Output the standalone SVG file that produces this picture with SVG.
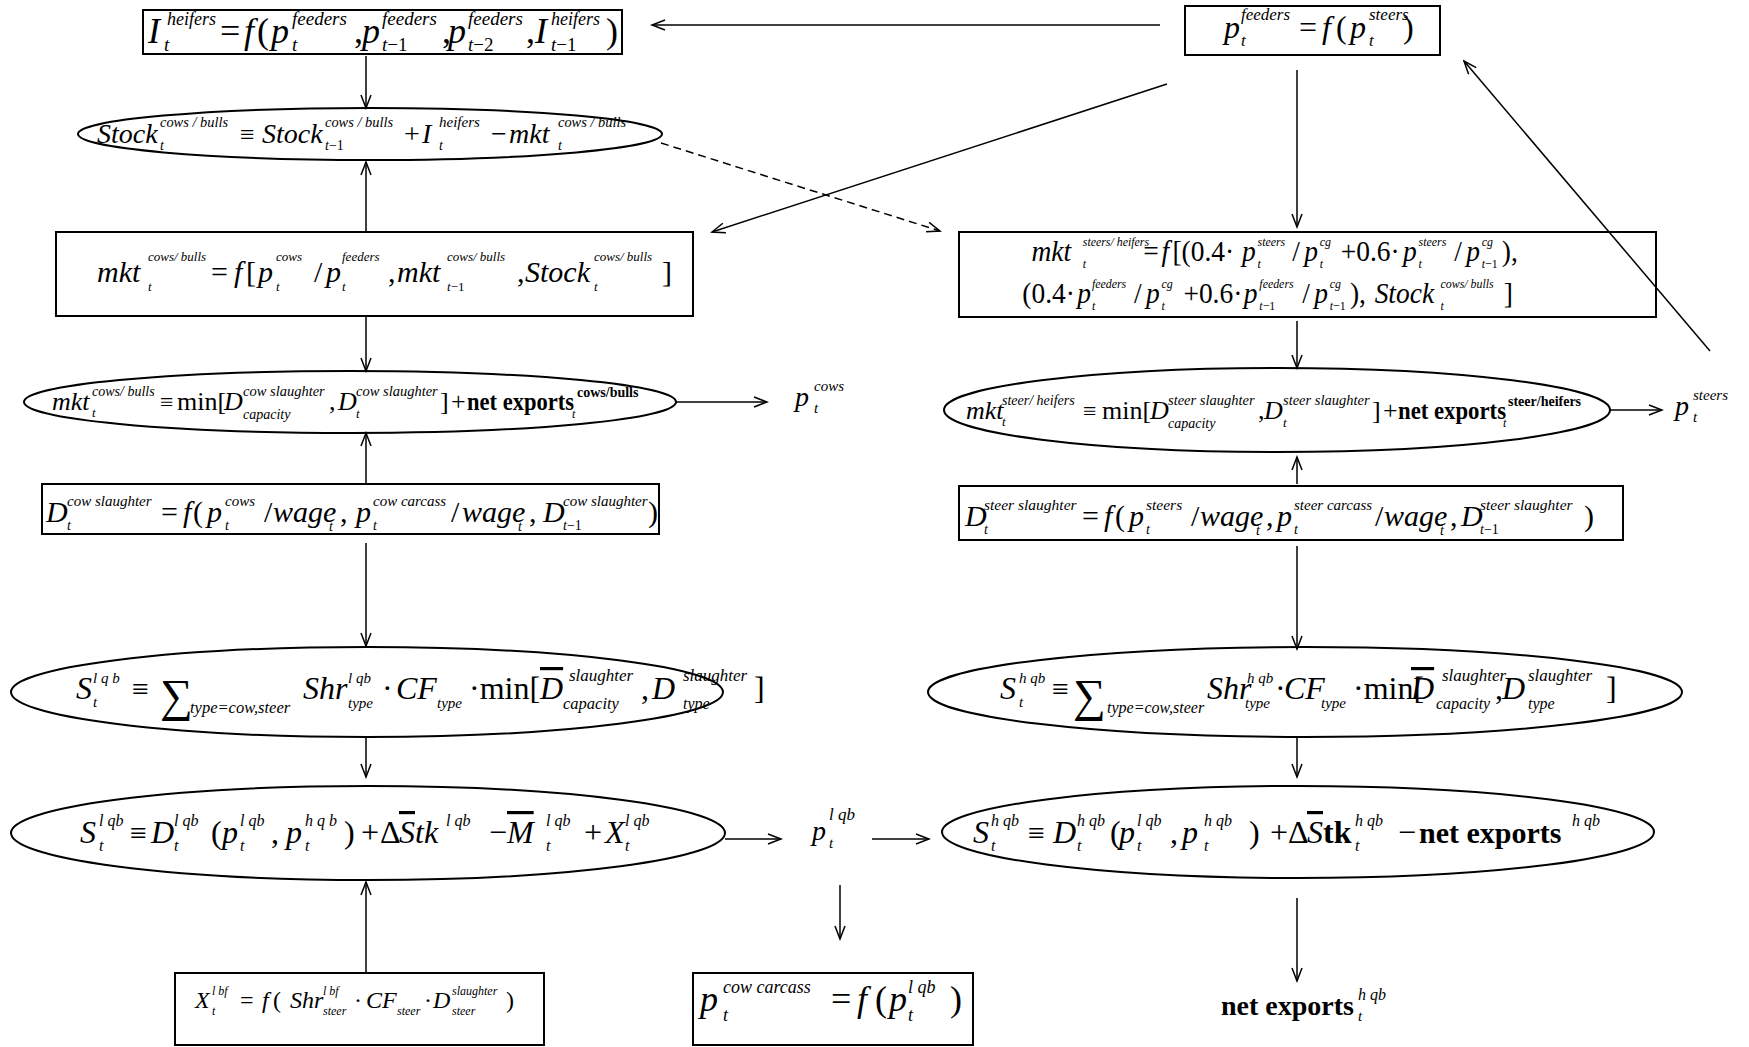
<svg xmlns="http://www.w3.org/2000/svg" width="1749" height="1047" viewBox="0 0 1749 1047">
<style>
text{font-family:"Liberation Serif","DejaVu Serif",serif;font-style:italic;fill:#000}
.r{font-style:normal}
.b{font-style:normal;font-weight:bold}
.ov{text-decoration:overline}
.sh{fill:none;stroke:#000;stroke-width:2}
.c{fill:none;stroke:#000;stroke-width:1.5;marker-end:url(#ah)}
.d{stroke-dasharray:8 5}
</style>
<defs>
<marker id="ah" markerWidth="16" markerHeight="12" refX="14" refY="6" orient="auto" markerUnits="userSpaceOnUse"><path d="M1,1 L14,6 L1,11" fill="none" stroke="#000" stroke-width="1.5"/></marker>
</defs>
<rect width="1749" height="1047" fill="#fff"/>

<g id="connectors">
<line class="c" x1="1160" y1="25" x2="652" y2="25"/>
<line class="c" x1="366" y1="56" x2="366" y2="108"/>
<line class="c" x1="366" y1="232" x2="366" y2="162"/>
<line class="c" x1="366" y1="316" x2="366" y2="371"/>
<line class="c" x1="366" y1="484" x2="366" y2="433"/>
<line class="c" x1="676" y1="402" x2="767" y2="402"/>
<line class="c" x1="366" y1="543" x2="366" y2="646"/>
<line class="c" x1="366" y1="737" x2="366" y2="777"/>
<line class="c" x1="366" y1="973" x2="366" y2="882"/>
<line class="c" x1="725" y1="839" x2="781" y2="839"/>
<line class="c" x1="872" y1="839" x2="929" y2="839"/>
<line class="c" x1="840" y1="885" x2="840" y2="939"/>
<line class="c" x1="1167" y1="84" x2="712" y2="232"/>
<line class="c d" x1="661" y1="143" x2="940" y2="231"/>
<line class="c" x1="1297" y1="70" x2="1297" y2="227"/>
<line class="c" x1="1297" y1="321" x2="1297" y2="368"/>
<line class="c" x1="1610" y1="410" x2="1662" y2="410"/>
<line class="c" x1="1297" y1="484" x2="1297" y2="457"/>
<line class="c" x1="1710" y1="351" x2="1464" y2="61"/>
<line class="c" x1="1297" y1="546" x2="1297" y2="649"/>
<line class="c" x1="1297" y1="737" x2="1297" y2="777"/>
<line class="c" x1="1297" y1="898" x2="1297" y2="981"/>
</g>

<g id="n-heifers">
<rect class="sh" x="143" y="10" width="479" height="44"/>
<text font-size="36">
<tspan x="148" y="43">I</tspan><tspan x="167" y="25" font-size="18">heifers</tspan><tspan x="164" y="51" font-size="19">t</tspan>
<tspan class="r" x="220" y="43">=</tspan><tspan x="244" y="43">f</tspan><tspan class="r" x="257" y="43">(</tspan>
<tspan x="271" y="43">p</tspan><tspan x="292" y="25" font-size="19">feeders</tspan><tspan x="292" y="51" font-size="19">t</tspan>
<tspan class="r" x="354" y="43">,</tspan>
<tspan x="362" y="43">p</tspan><tspan x="382" y="25" font-size="19">feeders</tspan><tspan x="382" y="51" font-size="19">t<tspan class="r">−1</tspan></tspan>
<tspan class="r" x="442" y="43">,</tspan>
<tspan x="448" y="43">p</tspan><tspan x="468" y="25" font-size="19">feeders</tspan><tspan x="468" y="51" font-size="19">t<tspan class="r">−2</tspan></tspan>
<tspan class="r" x="526" y="43">,</tspan>
<tspan x="535" y="43">I</tspan><tspan x="551" y="25" font-size="18">heifers</tspan><tspan x="551" y="51" font-size="19">t<tspan class="r">−1</tspan></tspan>
<tspan class="r" x="606" y="43">)</tspan>
</text>
</g>

<g id="n-feeders">
<rect class="sh" x="1185" y="6" width="255" height="49"/>
<text font-size="32">
<tspan x="1224" y="38">p</tspan><tspan x="1241" y="20" font-size="17">feeders</tspan><tspan x="1241" y="46" font-size="17">t</tspan>
<tspan class="r" x="1299" y="38">=</tspan><tspan x="1322" y="38">f</tspan><tspan class="r" x="1336" y="38">(</tspan>
<tspan x="1350" y="38">p</tspan><tspan x="1369" y="20" font-size="17">steers</tspan><tspan x="1369" y="46" font-size="17">t</tspan>
<tspan class="r" x="1403" y="38">)</tspan>
</text>
</g>

<g id="n-stock">
<ellipse class="sh" cx="370" cy="134" rx="292" ry="26"/>
<text font-size="28">
<tspan x="97" y="143">Stock</tspan><tspan x="160" y="127" font-size="14" textLength="68" lengthAdjust="spacingAndGlyphs">cows / bulls</tspan><tspan x="160" y="150" font-size="14">t</tspan>
<tspan class="r" x="240" y="143" font-size="26">≡</tspan>
<tspan x="262" y="143">Stock</tspan><tspan x="325" y="127" font-size="14" textLength="68" lengthAdjust="spacingAndGlyphs">cows / bulls</tspan><tspan x="325" y="150" font-size="14">t<tspan class="r">−1</tspan></tspan>
<tspan class="r" x="404" y="143">+</tspan>
<tspan x="422" y="143">I</tspan><tspan x="439" y="127" font-size="15">heifers</tspan><tspan x="439" y="150" font-size="14">t</tspan>
<tspan class="r" x="491" y="143">−</tspan>
<tspan x="509" y="143">mkt</tspan><tspan x="558" y="127" font-size="14" textLength="68" lengthAdjust="spacingAndGlyphs">cows / bulls</tspan><tspan x="558" y="150" font-size="14">t</tspan>
</text>
</g>

<g id="n-mkt-cows">
<rect class="sh" x="56" y="232" width="637" height="84"/>
<text font-size="30">
<tspan x="97" y="282">mkt</tspan><tspan x="148" y="261" font-size="13">cows/ bulls</tspan><tspan x="148" y="291" font-size="13">t</tspan>
<tspan class="r" x="211" y="282">=</tspan><tspan x="234" y="282">f</tspan><tspan class="r" x="246" y="282">[</tspan>
<tspan x="258" y="282">p</tspan><tspan x="276" y="261" font-size="13">cows</tspan><tspan x="276" y="291" font-size="13">t</tspan>
<tspan class="r" x="314" y="282">/</tspan>
<tspan x="326" y="282">p</tspan><tspan x="342" y="261" font-size="13">feeders</tspan><tspan x="342" y="291" font-size="13">t</tspan>
<tspan class="r" x="388" y="282">,</tspan>
<tspan x="397" y="282">mkt</tspan><tspan x="447" y="261" font-size="13">cows/ bulls</tspan><tspan x="447" y="291" font-size="13">t<tspan class="r">−1</tspan></tspan>
<tspan class="r" x="517" y="282">,</tspan>
<tspan x="525" y="282">Stock</tspan><tspan x="594" y="261" font-size="13">cows/ bulls</tspan><tspan x="594" y="291" font-size="13">t</tspan>
<tspan class="r" x="662" y="282">]</tspan>
</text>
</g>

<g id="n-mkt-steers">
<rect class="sh" x="959" y="232" width="697" height="85"/>
<text font-size="30" transform="matrix(0.915,0,0,1,84.5,0)">
<tspan x="1035" y="261">mkt</tspan><tspan x="1091" y="246" font-size="13">steers/ heifers</tspan><tspan x="1091" y="268" font-size="13">t</tspan>
<tspan class="r" x="1157" y="261">=</tspan><tspan x="1177" y="261">f</tspan><tspan class="r" x="1189" y="261">[(0.4·</tspan>
<tspan x="1265" y="261">p</tspan><tspan x="1282" y="246" font-size="13">steers</tspan><tspan x="1282" y="268" font-size="13">t</tspan>
<tspan class="r" x="1320" y="261">/</tspan>
<tspan x="1333" y="261">p</tspan><tspan x="1350" y="246" font-size="13">cg</tspan><tspan x="1350" y="268" font-size="13">t</tspan>
<tspan class="r" x="1373" y="261">+0.6·</tspan>
<tspan x="1441" y="261">p</tspan><tspan x="1458" y="246" font-size="13">steers</tspan><tspan x="1458" y="268" font-size="13">t</tspan>
<tspan class="r" x="1497" y="261">/</tspan>
<tspan x="1510" y="261">p</tspan><tspan x="1527" y="246" font-size="13">cg</tspan><tspan x="1527" y="268" font-size="13">t<tspan class="r">−1</tspan></tspan>
<tspan class="r" x="1549" y="261">),</tspan>
<tspan class="r" x="1025" y="303">(0.4·</tspan>
<tspan x="1085" y="303">p</tspan><tspan x="1101" y="288" font-size="13">feeders</tspan><tspan x="1101" y="310" font-size="13">t</tspan>
<tspan class="r" x="1147" y="303">/</tspan>
<tspan x="1160" y="303">p</tspan><tspan x="1177" y="288" font-size="13">cg</tspan><tspan x="1177" y="310" font-size="13">t</tspan>
<tspan class="r" x="1201" y="303">+0.6·</tspan>
<tspan x="1267" y="303">p</tspan><tspan x="1284" y="288" font-size="13">feeders</tspan><tspan x="1284" y="310" font-size="13">t<tspan class="r">−1</tspan></tspan>
<tspan class="r" x="1331" y="303">/</tspan>
<tspan x="1344" y="303">p</tspan><tspan x="1361" y="288" font-size="13">cg</tspan><tspan x="1361" y="310" font-size="13">t<tspan class="r">−1</tspan></tspan>
<tspan class="r" x="1383" y="303">),</tspan>
<tspan x="1410" y="303">Stock</tspan><tspan x="1482" y="288" font-size="13">cows/ bulls</tspan><tspan x="1482" y="310" font-size="13">t</tspan>
<tspan class="r" x="1551" y="303">]</tspan>
</text>
</g>

<g id="n-mkt-cows-id">
<ellipse class="sh" cx="350" cy="402" rx="326" ry="31"/>
<text font-size="26">
<tspan x="52" y="410">mkt</tspan><tspan x="92" y="396" font-size="14">cows/ bulls</tspan><tspan x="92" y="417" font-size="13">t</tspan>
<tspan class="r" x="160" y="410" font-size="24">≡</tspan><tspan class="r" x="177" y="410">min[</tspan>
<tspan x="224" y="410">D</tspan><tspan x="243" y="396" font-size="14.5">cow slaughter</tspan><tspan x="243" y="419" font-size="14">capacity</tspan>
<tspan class="r" x="329" y="410">,</tspan>
<tspan x="338" y="410">D</tspan><tspan x="356" y="396" font-size="14.5">cow slaughter</tspan><tspan x="356" y="418" font-size="13">t</tspan>
<tspan class="r" x="440" y="410">]</tspan><tspan class="r" x="451" y="410">+</tspan>
<tspan class="b" x="467" y="410" textLength="107" lengthAdjust="spacingAndGlyphs">net exports</tspan>
<tspan x="572" y="418" font-size="12">t</tspan>
<tspan class="b" x="577" y="397" font-size="14">cows/bulls</tspan>
</text>
</g>

<g id="n-p-cows">
<text font-size="28"><tspan x="795" y="406">p</tspan><tspan x="814" y="391" font-size="15">cows</tspan><tspan x="814" y="413" font-size="15">t</tspan></text>
</g>

<g id="n-mkt-steers-id">
<ellipse class="sh" cx="1277" cy="410" rx="333" ry="42"/>
<text font-size="26">
<tspan x="966" y="419">mkt</tspan><tspan x="1002" y="405" font-size="14">steer/ heifers</tspan><tspan x="1002" y="426" font-size="13">t</tspan>
<tspan class="r" x="1083" y="419" font-size="24">≡</tspan><tspan class="r" x="1102" y="419">min[</tspan>
<tspan x="1150" y="419">D</tspan><tspan x="1168" y="405" font-size="14.5">steer slaughter</tspan><tspan x="1168" y="428" font-size="14">capacity</tspan>
<tspan class="r" x="1258" y="419">,</tspan>
<tspan x="1264" y="419">D</tspan><tspan x="1283" y="405" font-size="14.5">steer slaughter</tspan><tspan x="1283" y="427" font-size="13">t</tspan>
<tspan class="r" x="1372" y="419">]</tspan><tspan class="r" x="1383" y="419">+</tspan>
<tspan class="b" x="1398" y="419" textLength="108" lengthAdjust="spacingAndGlyphs">net exports</tspan>
<tspan x="1503" y="427" font-size="12">t</tspan>
<tspan class="b" x="1508" y="406" font-size="14">steer/heifers</tspan>
</text>
</g>

<g id="n-p-steers">
<text font-size="28"><tspan x="1675" y="415">p</tspan><tspan x="1693" y="400" font-size="15">steers</tspan><tspan x="1693" y="422" font-size="15">t</tspan></text>
</g>

<g id="n-d-cow">
<rect class="sh" x="42" y="484" width="617" height="50"/>
<text font-size="30">
<tspan x="46" y="522">D</tspan><tspan x="67" y="506" font-size="15">cow slaughter</tspan><tspan x="67" y="530" font-size="14">t</tspan>
<tspan class="r" x="161" y="522">=</tspan><tspan x="183" y="522">f</tspan><tspan class="r" x="193" y="522">(</tspan>
<tspan x="207" y="522">p</tspan><tspan x="225" y="506" font-size="15">cows</tspan><tspan x="225" y="530" font-size="14">t</tspan>
<tspan class="r" x="264" y="522">/</tspan><tspan x="273" y="522">wage</tspan><tspan x="329" y="531" font-size="14">t</tspan>
<tspan class="r" x="340" y="522">,</tspan>
<tspan x="356" y="522">p</tspan><tspan x="373" y="506" font-size="15">cow carcass</tspan><tspan x="373" y="530" font-size="14">t</tspan>
<tspan class="r" x="451" y="522">/</tspan><tspan x="462" y="522">wage</tspan><tspan x="518" y="531" font-size="14">t</tspan>
<tspan class="r" x="529" y="522">,</tspan>
<tspan x="543" y="522">D</tspan><tspan x="563" y="506" font-size="15">cow slaughter</tspan><tspan x="563" y="530" font-size="14">t<tspan class="r">−1</tspan></tspan>
<tspan class="r" x="648" y="522">)</tspan>
</text>
</g>

<g id="n-d-steer">
<rect class="sh" x="959" y="486" width="664" height="54"/>
<text font-size="30">
<tspan x="965" y="526">D</tspan><tspan x="984" y="510" font-size="15.5">steer slaughter</tspan><tspan x="984" y="534" font-size="14">t</tspan>
<tspan class="r" x="1082" y="526">=</tspan><tspan x="1104" y="526">f</tspan><tspan class="r" x="1115" y="526">(</tspan>
<tspan x="1129" y="526">p</tspan><tspan x="1146" y="510" font-size="15.5">steers</tspan><tspan x="1146" y="534" font-size="14">t</tspan>
<tspan class="r" x="1191" y="526">/</tspan><tspan x="1200" y="526">wage</tspan><tspan x="1256" y="535" font-size="14">t</tspan>
<tspan class="r" x="1266" y="526">,</tspan>
<tspan x="1277" y="526">p</tspan><tspan x="1294" y="510" font-size="15">steer carcass</tspan><tspan x="1294" y="534" font-size="14">t</tspan>
<tspan class="r" x="1375" y="526">/</tspan><tspan x="1384" y="526">wage</tspan><tspan x="1440" y="535" font-size="14">t</tspan>
<tspan class="r" x="1450" y="526">,</tspan>
<tspan x="1461" y="526">D</tspan><tspan x="1480" y="510" font-size="15.5">steer slaughter</tspan><tspan x="1480" y="534" font-size="14">t<tspan class="r">−1</tspan></tspan>
<tspan class="r" x="1584" y="526">)</tspan>
</text>
</g>

<g id="n-s-lqb-1">
<ellipse class="sh" cx="367" cy="692" rx="356" ry="45"/>
<text font-size="32">
<tspan x="76" y="699">S</tspan><tspan x="93" y="683" font-size="15">l q b</tspan><tspan x="93" y="707" font-size="15">t</tspan>
<tspan class="r" x="132" y="699" font-size="30">≡</tspan>
<tspan class="r" x="160" y="711" font-size="46">∑</tspan>
<tspan x="190" y="713" font-size="16.5">type=cow,steer</tspan>
<tspan x="303" y="699">Shr</tspan><tspan x="348" y="683" font-size="15">l qb</tspan><tspan x="348" y="708" font-size="15">type</tspan>
<tspan class="r" x="382" y="699">·</tspan>
<tspan x="396" y="699">CF</tspan><tspan x="437" y="708" font-size="15">type</tspan>
<tspan class="r" x="469" y="699">·min[</tspan>
<tspan class="ov" x="540" y="699">D</tspan><tspan x="569" y="681" font-size="17">slaughter</tspan><tspan x="563" y="709" font-size="16.5">capacity</tspan>
<tspan class="r" x="641" y="699">,</tspan>
<tspan x="652" y="699">D</tspan><tspan x="683" y="681" font-size="17">slaughter</tspan><tspan x="683" y="709" font-size="16">type</tspan>
<tspan class="r" x="754" y="699">]</tspan>
</text>
</g>

<g id="n-s-hqb-1">
<ellipse class="sh" cx="1305" cy="692" rx="377" ry="45"/>
<text font-size="32">
<tspan x="1000" y="699">S</tspan><tspan x="1019" y="683" font-size="15">h qb</tspan><tspan x="1019" y="707" font-size="15">t</tspan>
<tspan class="r" x="1052" y="699" font-size="30">≡</tspan>
<tspan class="r" x="1073" y="711" font-size="46">∑</tspan>
<tspan x="1107" y="713" font-size="16">type=cow,steer</tspan>
<tspan x="1207" y="699">Shr</tspan><tspan x="1247" y="683" font-size="15">h qb</tspan><tspan x="1245" y="708" font-size="15">type</tspan>
<tspan class="r" x="1275" y="699">·</tspan>
<tspan x="1284" y="699">CF</tspan><tspan x="1321" y="708" font-size="15">type</tspan>
<tspan class="r" x="1353" y="699">·min[</tspan>
<tspan class="ov" x="1411" y="699">D</tspan><tspan x="1442" y="681" font-size="17">slaughter</tspan><tspan x="1436" y="709" font-size="16">capacity</tspan>
<tspan class="r" x="1495" y="699">,</tspan>
<tspan x="1502" y="699">D</tspan><tspan x="1528" y="681" font-size="17">slaughter</tspan><tspan x="1528" y="709" font-size="16">type</tspan>
<tspan class="r" x="1606" y="699">]</tspan>
</text>
</g>

<g id="n-s-lqb-2">
<ellipse class="sh" cx="368" cy="833" rx="357" ry="47"/>
<text font-size="32">
<tspan x="80" y="843">S</tspan><tspan x="99" y="826" font-size="16">l qb</tspan><tspan x="99" y="851" font-size="16">t</tspan>
<tspan class="r" x="130" y="843" font-size="30">≡</tspan>
<tspan x="151" y="843">D</tspan><tspan x="174" y="826" font-size="16">l qb</tspan><tspan x="174" y="851" font-size="16">t</tspan>
<tspan class="r" x="211" y="843">(</tspan>
<tspan x="222" y="843">p</tspan><tspan x="240" y="826" font-size="16">l qb</tspan><tspan x="240" y="851" font-size="16">t</tspan>
<tspan class="r" x="271" y="843">,</tspan>
<tspan x="286" y="843">p</tspan><tspan x="305" y="826" font-size="16">h q b</tspan><tspan x="305" y="851" font-size="16">t</tspan>
<tspan class="r" x="344" y="843">)</tspan><tspan class="r" x="361" y="843">+</tspan><tspan class="r" x="380" y="843">Δ</tspan>
<tspan class="ov" x="399" y="843">S</tspan><tspan x="415" y="843">tk</tspan><tspan x="446" y="826" font-size="16">l qb</tspan>
<tspan class="r" x="489" y="843">−</tspan>
<tspan class="ov" x="507" y="843">M</tspan><tspan x="546" y="826" font-size="16">l qb</tspan><tspan x="546" y="851" font-size="16">t</tspan>
<tspan class="r" x="584" y="843">+</tspan>
<tspan x="605" y="843">X</tspan><tspan x="625" y="826" font-size="16">l qb</tspan><tspan x="625" y="851" font-size="16">t</tspan>
</text>
</g>

<g id="n-p-lqb">
<text font-size="28"><tspan x="812" y="840">p</tspan><tspan x="829" y="820" font-size="17">l  qb</tspan><tspan x="829" y="848" font-size="15">t</tspan></text>
</g>

<g id="n-s-hqb-2">
<ellipse class="sh" cx="1298" cy="832" rx="356" ry="46"/>
<text font-size="32">
<tspan x="973" y="843">S</tspan><tspan x="991" y="826" font-size="16">h qb</tspan><tspan x="991" y="851" font-size="16">t</tspan>
<tspan class="r" x="1028" y="843" font-size="30">≡</tspan>
<tspan x="1053" y="843">D</tspan><tspan x="1077" y="826" font-size="16">h qb</tspan><tspan x="1077" y="851" font-size="16">t</tspan>
<tspan class="r" x="1110" y="843">(</tspan>
<tspan x="1119" y="843">p</tspan><tspan x="1137" y="826" font-size="16">l qb</tspan><tspan x="1137" y="851" font-size="16">t</tspan>
<tspan class="r" x="1170" y="843">,</tspan>
<tspan x="1182" y="843">p</tspan><tspan x="1204" y="826" font-size="16">h qb</tspan><tspan x="1204" y="851" font-size="16">t</tspan>
<tspan class="r" x="1249" y="843">)</tspan><tspan class="r" x="1270" y="843">+</tspan><tspan class="r" x="1288" y="843">Δ</tspan>
<tspan class="ov" x="1307" y="843">S</tspan><tspan class="b" x="1323" y="843">tk</tspan><tspan x="1355" y="826" font-size="16">h qb</tspan><tspan x="1355" y="851" font-size="16">t</tspan>
<tspan class="r" x="1398" y="843">−</tspan>
<tspan class="b" x="1419" y="843" font-size="30">net exports</tspan><tspan x="1572" y="826" font-size="16">h qb</tspan>
</text>
</g>

<g id="n-x-lbf">
<rect class="sh" x="175" y="973" width="369" height="72"/>
<text font-size="24">
<tspan x="195" y="1008">X</tspan><tspan x="212" y="995" font-size="12">l bf</tspan><tspan x="212" y="1015" font-size="12">t</tspan>
<tspan class="r" x="240" y="1008">=</tspan><tspan x="262" y="1008">f</tspan><tspan class="r" x="273" y="1008">(</tspan>
<tspan x="290" y="1008">Shr</tspan><tspan x="323" y="995" font-size="12">l bf</tspan><tspan x="323" y="1015" font-size="12">steer</tspan>
<tspan class="r" x="354" y="1008">·</tspan>
<tspan x="366" y="1008">CF</tspan><tspan x="397" y="1015" font-size="12">steer</tspan>
<tspan class="r" x="424" y="1008">·</tspan>
<tspan x="433" y="1008">D</tspan><tspan x="452" y="995" font-size="12">slaughter</tspan><tspan x="452" y="1015" font-size="12">steer</tspan>
<tspan class="r" x="506" y="1008">)</tspan>
</text>
</g>

<g id="n-p-carcass">
<rect class="sh" x="693" y="973" width="280" height="72"/>
<text font-size="36">
<tspan x="700" y="1011">p</tspan><tspan x="723" y="993" font-size="18">cow  carcass</tspan><tspan x="723" y="1021" font-size="18">t</tspan>
<tspan class="r" x="831" y="1011">=</tspan><tspan x="857" y="1011">f</tspan><tspan class="r" x="875" y="1011">(</tspan>
<tspan x="889" y="1011">p</tspan><tspan x="908" y="993" font-size="18">l qb</tspan><tspan x="908" y="1021" font-size="18">t</tspan>
<tspan class="r" x="950" y="1011">)</tspan>
</text>
</g>

<g id="n-net-exports">
<text font-size="28"><tspan class="b" x="1221" y="1015">net exports</tspan><tspan x="1358" y="1000" font-size="16">h qb</tspan><tspan x="1358" y="1021" font-size="15">t</tspan></text>
</g>
</svg>
